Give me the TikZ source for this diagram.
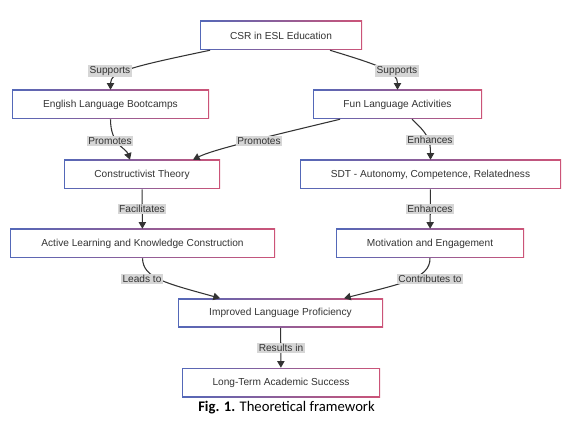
\documentclass[tikz,border=0pt]{standalone}
\usepackage{fontspec}
\setmainfont{Liberation Sans}
\newfontfamily\capfont{Carlito}
\usetikzlibrary{arrows.meta, positioning, calc}
\definecolor{rimblue}{HTML}{5468B8}
\definecolor{rimrose}{HTML}{CC5478}
\definecolor{inkdark}{HTML}{333333}
\definecolor{tagfill}{HTML}{D6D6D6}
\tikzset{
  framebox/.style={fill=white, minimum height=21.75pt, inner sep=0pt,
    text=inkdark, font=\fontsize{7.6}{9}\selectfont,
    path picture={%
      \shade[left color=rimblue, right color=rimrose]
        (path picture bounding box.south west) rectangle (path picture bounding box.north east);
      \fill[white]
        ([shift={(0.8pt,0.8pt)}]path picture bounding box.south west) rectangle
        ([shift={(-0.8pt,-0.8pt)}]path picture bounding box.north east);}},
  tag/.style={fill=tagfill, text=inkdark, inner sep=1pt,
    font=\fontsize{7.6}{9}\selectfont},
  flow/.style={draw=inkdark, line width=0.8pt, -{Triangle[length=5pt,width=5.5pt]}}
}

\begin{document}
\begin{tikzpicture}[x=0.75pt, y=-0.75pt]
  \useasboundingbox (0,0) rectangle (577,423);

  % boxes
  \node[framebox, minimum width=121.5pt]  (csr)  at (281,35.5)   {CSR in ESL Education};
  \node[framebox, minimum width=147.75pt] (boot) at (110.5,104.5) {English Language Bootcamps};
  \node[framebox, minimum width=126.75pt] (fun)  at (397.5,104.5) {Fun Language Activities};
  \node[framebox, minimum width=117pt]    (con)  at (142,174.5)   {Constructivist Theory};
  \node[framebox, minimum width=195.75pt] (sdt)  at (430.5,174.5) {SDT - Autonomy, Competence, Relatedness};
  \node[framebox, minimum width=198.75pt] (act)  at (142.5,243.5) {Active Learning and Knowledge Construction};
  \node[framebox, minimum width=141pt]    (mot)  at (430,243.5)   {Motivation and Engagement};
  \node[framebox, minimum width=153.75pt] (imp)  at (280.5,313)   {Improved Language Proficiency};
  \node[framebox, minimum width=148.5pt]  (lts)  at (281,382.5)   {Long-Term Academic Success};

  % connectors
  \draw[flow] ($(csr.south)+(-71,0)$) .. controls (130,67) and (110.5,72) .. (boot.north);
  \draw[flow] ($(csr.south)+(49,0)$) .. controls (382,66) and (397.5,72) .. (fun.north);
  \draw[flow] (boot.south) .. controls (110.5,145) and (126,148) .. ($(con.north)+(-12,0)$);
  \draw[flow] ($(fun.south)+(-57.5,0)$) .. controls (262,138) and (212,150) .. ($(con.north)+(51,0)$);
  \draw[flow] ($(fun.south)+(14.5,0)$) .. controls (428,134) and (430.5,140) .. (sdt.north);
  \draw[flow] (con) -- (act);
  \draw[flow] (sdt) -- (mot);
  \draw[flow] (act.south) .. controls (143,278) and (165,283) .. ($(imp.north)+(-60.5,0)$);
  \draw[flow] (mot.south) .. controls (430,278) and (405,283) .. ($(imp.north)+(63.5,0)$);
  \draw[flow] (imp) -- (lts);

  % labels
  \node[tag] (supA) at (110,71)  {Supports};
  \node[tag] (supB) at (397,71)  {Supports};
  \node[tag] (proA) at (110,141) {Promotes};
  \node[tag] (proB) at (259,141) {Promotes};
  \node[tag] (enhA) at (430,140) {Enhances};
  \node[tag] (fac)  at (142,209) {Facilitates};
  \node[tag] (enhB) at (430,209) {Enhances};
  \node[tag] (lead) at (142,279) {Leads to};
  \node[tag] (cont) at (430,279) {Contributes to};
  \node[tag] (res)  at (281,348) {Results in};

  \node[font=\capfont\fontsize{11}{13}\selectfont] (cap) at (286.5,408)
    {\textbf{Fig. 1.} Theoretical framework};
\end{tikzpicture}
\end{document}
